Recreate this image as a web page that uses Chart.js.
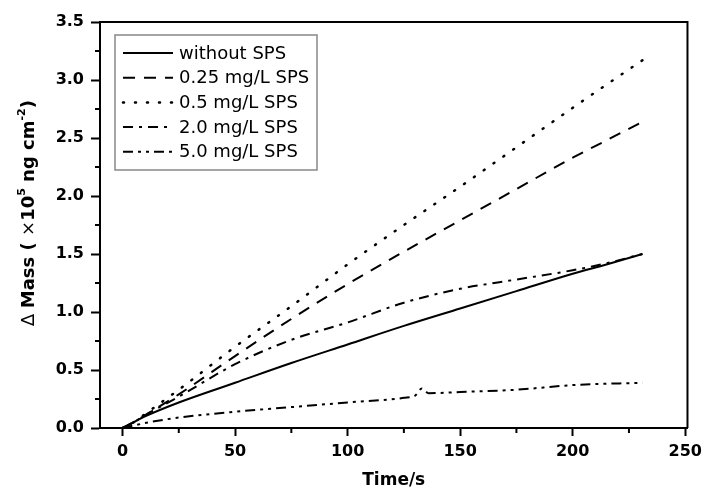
<!DOCTYPE html>
<html>
<head>
<meta charset="utf-8">
<script src="https://cdn.jsdelivr.net/npm/chart.js@4.4.1/dist/chart.umd.min.js"></script>
<style>
  html, body { margin: 0; padding: 0; background: #fff; }
  #wrap { width: 708px; height: 496px; }
</style>
</head>
<body>
<div id="wrap"><canvas id="massChart" width="708" height="496"></canvas></div>
<script>
// --- dados ---
const timeS = [0, 5, 10, 25, 50, 75, 100, 125, 150, 175, 200, 215, 231];
const withoutSPS = [0, 0.05, 0.10, 0.22, 0.39, 0.56, 0.72, 0.88, 1.03, 1.18, 1.33, 1.41, 1.50];
const sps025 = [0, 0.05, 0.11, 0.29, 0.62, 0.94, 1.24, 1.52, 1.79, 2.06, 2.33, 2.48, 2.64];
const sps05 = [0, 0.05, 0.12, 0.33, 0.70, 1.05, 1.41, 1.75, 2.08, 2.42, 2.76, 2.96, 3.17];
const sps20 = [0, 0.05, 0.11, 0.27, 0.55, 0.76, 0.91, 1.08, 1.20, 1.28, 1.36, 1.42, 1.50];

const time50 = [0, 12, 25, 50, 75, 100, 125, 130, 133, 136, 150, 175, 200, 231];
const sps50 = [0, 0.05, 0.09, 0.14, 0.18, 0.22, 0.26, 0.28, 0.34, 0.30, 0.31, 0.33, 0.37, 0.39];

const seriesLabels = ['without SPS', '0.25 mg/L SPS', '0.5 mg/L SPS', '2.0 mg/L SPS', '5.0 mg/L SPS'];
const xTicks = [0, 50, 100, 150, 200, 250];
const yTicks = [0, 0.5, 1.0, 1.5, 2.0, 2.5, 3.0, 3.5];

const FONT = "'DejaVu Sans', sans-serif";

function toPoints(xs, ys) {
    return xs.map((x, i) => ({ x: x, y: ys[i] }));
}

function lineSet(label, xs, ys, dash, extra) {
    return Object.assign({
        label: label,
        data: toPoints(xs, ys),
        borderColor: '#000',
        borderWidth: 2,
        borderDash: dash,
        pointRadius: 0,
        fill: false,
        cubicInterpolationMode: 'monotone'
    }, extra || {});
}

// --- plugin: moldura, ticks menores, legenda e título Y ---
const extrasPlugin = {
    id: 'extras',
    afterDatasetsDraw(chart) {
        const ctx = chart.ctx;
        const area = chart.chartArea;
        const xs = chart.scales.x;
        const ys = chart.scales.y;

        ctx.save();
        // moldura superior e direita
        ctx.strokeStyle = '#000';
        ctx.lineWidth = 2;
        ctx.beginPath();
        ctx.moveTo(area.left, area.top);
        ctx.lineTo(area.right, area.top);
        ctx.lineTo(area.right, area.bottom);
        ctx.stroke();

        // ticks menores
        ctx.beginPath();
        for (let v = 0.25; v < 3.5; v += 0.5) {
            const py = ys.getPixelForValue(v);
            ctx.moveTo(area.left, py);
            ctx.lineTo(area.left - 5, py);
        }
        for (let t = 25; t < 250; t += 50) {
            const px = xs.getPixelForValue(t);
            ctx.moveTo(px, area.bottom);
            ctx.lineTo(px, area.bottom + 5);
        }
        ctx.stroke();

        // legenda
        const lx = area.left + 15, ly = area.top + 13;
        const lw = 202, lh = 135;
        ctx.fillStyle = '#fff';
        ctx.fillRect(lx, ly, lw, lh);
        ctx.strokeStyle = '#888';
        ctx.lineWidth = 1.5;
        ctx.strokeRect(lx, ly, lw, lh);

        ctx.font = '18px ' + FONT;
        ctx.textBaseline = 'middle';
        ctx.textAlign = 'left';
        chart.data.datasets.forEach((ds, i) => {
            const cy = ly + 18 + i * 24.7;
            ctx.save();
            ctx.strokeStyle = '#000';
            ctx.lineWidth = ds.borderWidth;
            ctx.lineCap = ds.borderCapStyle || 'butt';
            ctx.setLineDash(ds.borderDash || []);
            ctx.beginPath();
            ctx.moveTo(lx + 8, cy);
            ctx.lineTo(lx + 58, cy);
            ctx.stroke();
            ctx.restore();
            ctx.fillStyle = '#000';
            ctx.fillText(ds.label, lx + 64, cy + 1);
        });

        // título do eixo Y com expoentes
        const parts = [
            { t: '\u2206 ', f: '18px ' + FONT, dy: 0 },
            { t: 'Mass ( ', f: 'bold 18px ' + FONT, dy: 0 },
            { t: '\u00d7', f: '18px ' + FONT, dy: 0 },
            { t: '10', f: 'bold 18px ' + FONT, dy: 0 },
            { t: '5', f: 'bold 11px ' + FONT, dy: -7 },
            { t: ' ng cm', f: 'bold 18px ' + FONT, dy: 0 },
            { t: '-2', f: 'bold 11px ' + FONT, dy: -7 },
            { t: ')', f: 'bold 18px ' + FONT, dy: 0 }
        ];
        let total = 0;
        parts.forEach(p => { ctx.font = p.f; p.w = ctx.measureText(p.t).width; total += p.w; });
        ctx.translate(29, (area.top + area.bottom) / 2 - 12);
        ctx.rotate(-Math.PI / 2);
        ctx.fillStyle = '#000';
        let cx = -total / 2;
        parts.forEach(p => {
            ctx.font = p.f;
            ctx.fillText(p.t, cx, p.dy);
            cx += p.w;
        });
        ctx.restore();
    }
};

const ctx = document.getElementById('massChart').getContext('2d');

new Chart(ctx, {
    type: 'line',
    data: {
        datasets: [
            lineSet(seriesLabels[0], timeS, withoutSPS, []),
            lineSet(seriesLabels[1], timeS, sps025, [12, 9]),
            lineSet(seriesLabels[2], timeS, sps05, [1, 11], { borderWidth: 2.5, borderCapStyle: 'round' }),
            lineSet(seriesLabels[3], timeS, sps20, [10, 6, 3, 6]),
            lineSet(seriesLabels[4], time50, sps50, [10, 5, 3, 5, 3, 5])
        ]
    },
    options: {
        responsive: false,
        animation: false,
        layout: { padding: { top: 22, right: 18, left: 0, bottom: 0 } },
        plugins: {
            legend: { display: false },
            tooltip: { enabled: false }
        },
        scales: {
            x: {
                type: 'linear',
                min: -10,
                max: 251,
                afterFit: (scale) => { scale.height = 68; },
                afterBuildTicks: (scale) => { scale.ticks = xTicks.map(v => ({ value: v })); },
                border: { display: true, color: '#000', width: 2 },
                grid: { drawOnChartArea: false, drawTicks: true, tickLength: 8, tickColor: '#000', tickWidth: 2 },
                ticks: {
                    color: '#000',
                    padding: 6,
                    maxRotation: 0,
                    font: { family: FONT, size: 16, weight: 'bold' },
                    callback: (v) => String(v)
                },
                title: {
                    display: true,
                    text: 'Time/s',
                    color: '#000',
                    font: { family: FONT, size: 17, weight: 'bold' },
                    padding: { top: 0, bottom: 5 }
                }
            },
            y: {
                type: 'linear',
                min: 0,
                max: 3.5,
                afterFit: (scale) => { scale.width = 100; },
                afterBuildTicks: (scale) => { scale.ticks = yTicks.map(v => ({ value: v })); },
                border: { display: true, color: '#000', width: 2 },
                grid: { drawOnChartArea: false, drawTicks: true, tickLength: 9, tickColor: '#000', tickWidth: 2 },
                ticks: {
                    color: '#000',
                    padding: 7,
                    font: { family: FONT, size: 16, weight: 'bold' },
                    callback: (v) => Number(v).toFixed(1)
                }
            }
        }
    },
    plugins: [extrasPlugin]
});
</script>
</body>
</html>
